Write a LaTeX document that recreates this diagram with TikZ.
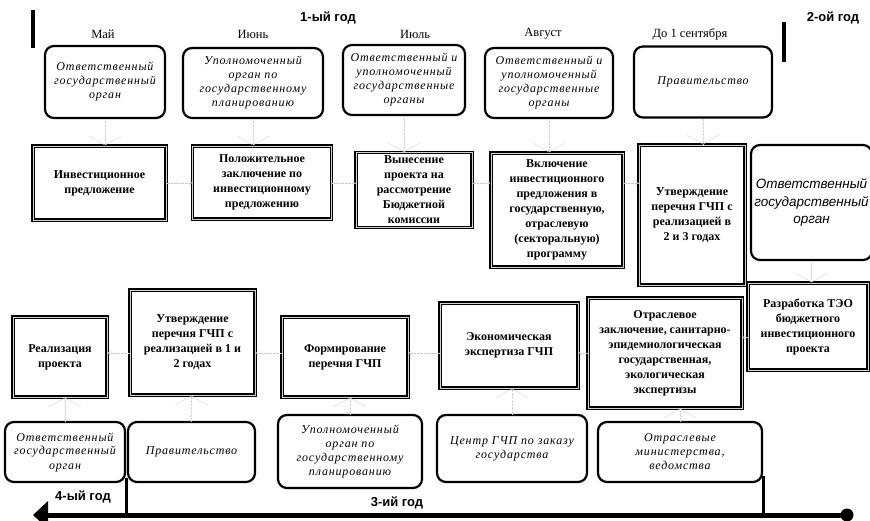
\documentclass[tikz,border=0pt]{standalone}
\usepackage{fontspec}
\setmainfont{Liberation Serif}
\setsansfont{Liberation Sans}
\newfontfamily\whofont{Liberation Serif}[LetterSpace=7]
\usetikzlibrary{arrows.meta}

\tikzset{
  who/.style={draw, line width=2.2pt, rounded corners=9pt, align=center,
    font=\whofont\itshape\fontsize{12}{14}\selectfont},
  stage/.style={draw, line width=1.3pt, double=gray!35, double distance=1pt,
    align=center, font=\bfseries\fontsize{12}{15}\selectfont},
  month/.style={font=\fontsize{12.5}{14}\selectfont},
  year/.style={font=\sffamily\bfseries\fontsize{13}{15}\selectfont},
  link/.style={draw=gray!35, densely dotted, -{Straight Barb[length=9pt,width=32pt]}},
  hlink/.style={draw=gray!45, densely dotted, -{Straight Barb[length=2.5pt,width=5pt]}},
}

\begin{document}
\begin{tikzpicture}[x=1pt, y=-1pt]
  \useasboundingbox (0,0) rectangle (870,520);

  % years and months
  \node[year] (y1) at (328,18) {1-ый год};
  \node[year] (y2) at (833,18) {2-ой год};
  \node[year] (y3) at (397,503) {3-ий год};
  \node[year] (y4) at (83,497) {4-ый год};
  \coordinate (bar1a) at (33,10);  \coordinate (bar1b) at (33,48);
  \coordinate (bar2a) at (784,22); \coordinate (bar2b) at (784,62);
  \draw[line width=4pt] (bar1a) -- (bar1b);
  \draw[line width=4pt] (bar2a) -- (bar2b);
  \node[month] (m1) at (103,34) {Май};
  \node[month] (m2) at (253,34) {Июнь};
  \node[month] (m3) at (415,34) {Июль};
  \node[month] (m4) at (543,34) {Август};
  \node[month] (m5) at (690,34) {До 1 сентября};

  % top row: who
  \node[who, minimum width=120pt, minimum height=72pt] (t1) at (105,82)
    {Ответственный\\государственный\\орган};
  \node[who, minimum width=140pt, minimum height=70pt] (t2) at (253,83)
    {Уполномоченный\\орган по\\государственному\\планированию};
  \node[who, minimum width=122pt, minimum height=70pt] (t3) at (404,80)
    {Ответственный и\\уполномоченный\\государственные\\органы};
  \node[who, minimum width=128pt, minimum height=70pt] (t4) at (549,83)
    {Ответственный и\\уполномоченный\\государственные\\органы};
  \node[who, minimum width=138pt, minimum height=71pt] (t5) at (703,82)
    {Правительство};

  % middle row: stages
  \node[stage, minimum width=133pt, minimum height=74pt] (s1) at (99.5,183)
    {Инвестиционное\\предложение};
  \node[stage, minimum width=139pt, minimum height=73pt] (s2) at (262,182.5)
    {Положительное\\заключение по\\инвестиционному\\предложению};
  \node[stage, minimum width=116pt, minimum height=74pt] (s3) at (414,190)
    {Вынесение\\проекта на\\рассмотрение\\Бюджетной\\комиссии};
  \node[stage, minimum width=132pt, minimum height=114pt] (s4) at (557,210)
    {Включение\\инвестиционного\\предложения в\\государственную,\\отраслевую\\(секторальную)\\программу};
  \node[stage, minimum width=106pt, minimum height=140pt] (s5) at (692,215)
    {Утверждение\\перечня ГЧП с\\реализацией в\\2 и 3 годах};
  \node[who, minimum width=113pt, minimum height=115pt,
    font=\sffamily\itshape\fontsize{13.5}{17.5}\selectfont] (org) at (811.5,202.5)
    {Ответственный\\государственный\\орган};
  \node[stage, minimum width=120pt, minimum height=87pt] (teo) at (808,326.5)
    {Разработка ТЭО\\бюджетного\\инвестиционного\\проекта};

  % bottom row: stages
  \node[stage, minimum width=94pt, minimum height=80pt] (r1) at (60,357)
    {Реализация\\проекта};
  \node[stage, minimum width=125pt, minimum height=105pt] (r2) at (192.5,342.5)
    {Утверждение\\перечня ГЧП с\\реализацией в 1 и\\2 годах};
  \node[stage, minimum width=126pt, minimum height=80pt] (r3) at (345,357)
    {Формирование\\перечня ГЧП};
  \node[stage, minimum width=138pt, minimum height=85pt] (r4) at (509,345.5)
    {Экономическая\\экспертиза ГЧП};
  \node[stage, minimum width=154pt, minimum height=110pt] (r5) at (665,353)
    {Отраслевое\\заключение, санитарно-\\эпидемиологическая\\государственная,\\экологическая\\экспертизы};

  % bottom row: who
  \node[who, minimum width=120pt, minimum height=60pt] (b1) at (65,452)
    {Ответственный\\государственный\\орган};
  \node[who, minimum width=127pt, minimum height=60pt] (b2) at (191.5,452)
    {Правительство};
  \node[who, minimum width=144pt, minimum height=73pt] (b3) at (350,451.5)
    {Уполномоченный\\орган по\\государственному\\планированию};
  \node[who, minimum width=150pt, minimum height=67pt] (b4) at (512,448.5)
    {Центр ГЧП по заказу\\государства};
  \node[who, minimum width=164pt, minimum height=60pt] (b5) at (680,452)
    {Отраслевые\\министерства,\\ведомства};

  % links
  \foreach \a/\b in {t1/s1, t2/s2, t3/s3, t4/s4, t5/s5, org/teo}
    \draw[link] (\a.south) -- (\a.south |- \b.north);
  \foreach \a/\b in {b1/r1, b2/r2, b3/r3, b4/r4, b5/r5}
    \draw[link] (\a.north) -- (\a.north |- \b.south);
  \foreach \a/\b in {s1/s2, s2/s3, s3/s4, s4/s5}
    \draw[hlink] (\a.east |- s1.center) -- (\b.west |- s1.center);
  \draw[hlink] ([yshift=-11pt]teo.west) -- ([yshift=-11pt]teo.west -| r5.east);
  \foreach \a/\b in {r5/r4, r4/r3, r3/r2, r2/r1}
    \draw[hlink] (\a.west |- r5.center) -- (\b.east |- r5.center);

  % time line
  \node[circle, fill, minimum size=13pt, inner sep=0pt] (dot) at (847,515) {};
  \coordinate (tip) at (33,515);
  \draw[line width=5pt, -{Triangle[length=15pt,width=27pt]}] (dot.center) -- (tip);
  \draw[line width=3pt] ([yshift=5pt]b1.south east) -- (b1.south east |- dot);
  \draw[line width=3pt] ([yshift=7pt]b5.south east) -- (b5.south east |- dot);
\end{tikzpicture}
\end{document}
